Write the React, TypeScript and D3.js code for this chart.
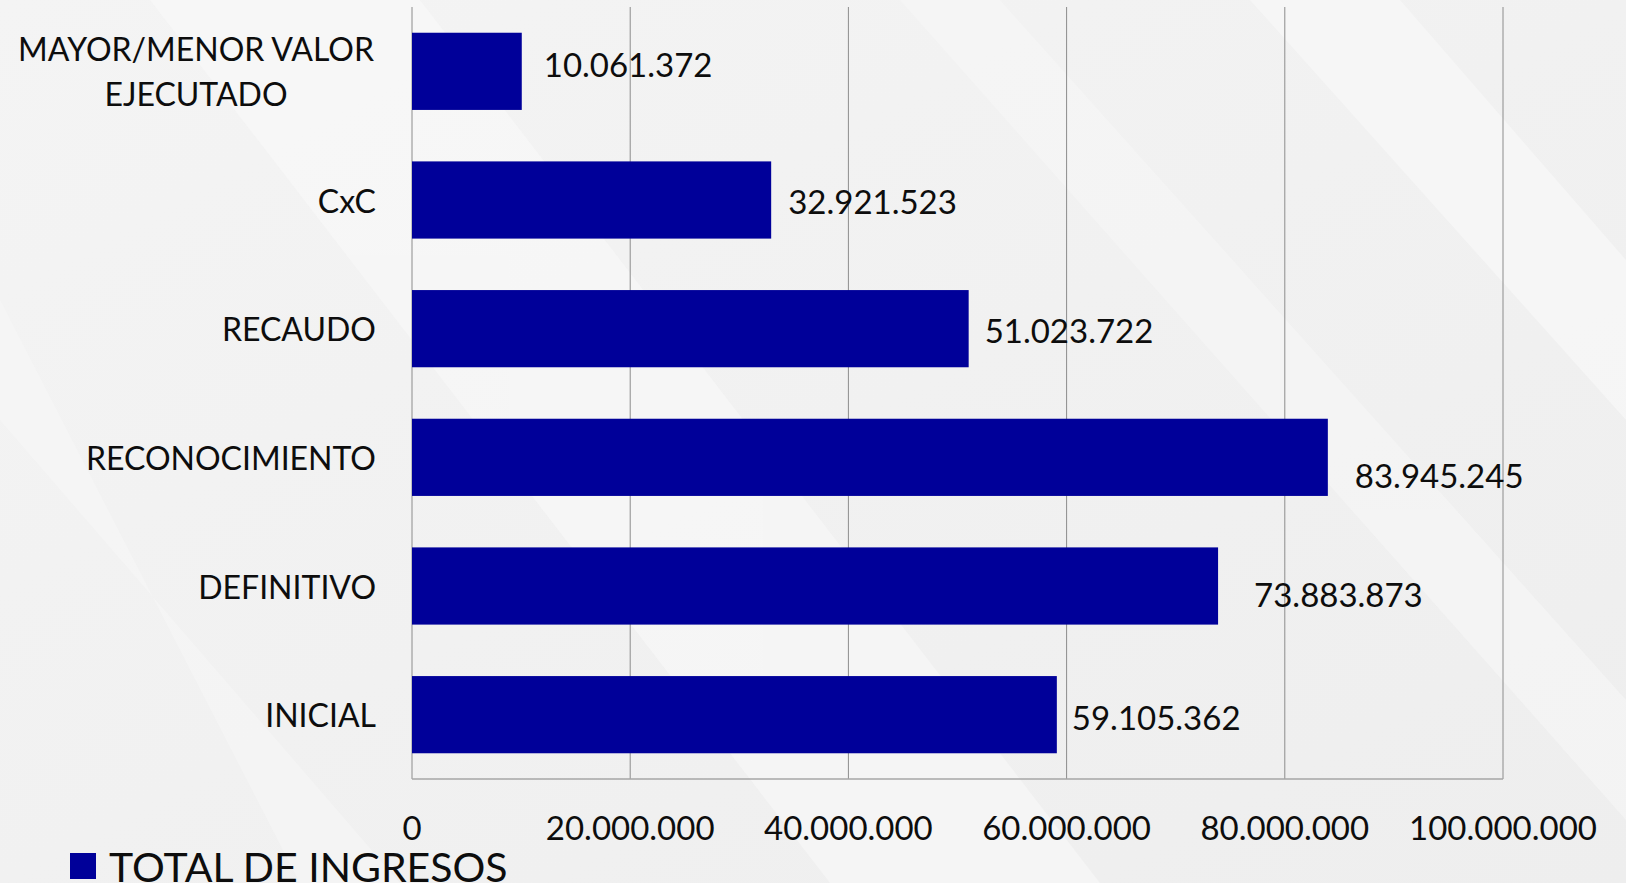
import React from "react";
import * as d3 from "d3";

const categories = ["MAYOR/MENOR VALOR\nEJECUTADO", "CxC", "RECAUDO", "RECONOCIMIENTO", "DEFINITIVO", "INICIAL"];
const values = [10061372, 32921523, 51023722, 83945245, 73883873, 59105362];
const seriesName = "TOTAL DE INGRESOS";
const xTicks = [0, 20000000, 40000000, 60000000, 80000000, 100000000];
// manual label nudges (px) as in the original layout
const labelDx = [22, 17, 16, 27, 36, 15];
const labelDy = [-7, 1, 1, 18, 8, 2];

const W = 1626;
const H = 883;
const FONT = "Lato, 'Open Sans', sans-serif";

const fmt = (v: number) => d3.format(",")(v).replace(/,/g, ".");

export default function App() {
  const left = 412;
  const right = 1503;
  const top = 7;
  const bottom = 779;
  const x = d3.scaleLinear().domain([0, 100000000]).range([left, right]);
  const y = d3
    .scaleBand<string>()
    .domain(categories)
    .range([top, bottom])
    .paddingInner(0.4)
    .paddingOuter(0.2);

  return (
    <svg
      width={W}
      height={H}
      style={{ position: "absolute", left: 0, top: 0 }}
      fontFamily={FONT}
    >
      <defs>
        <linearGradient id="bg" x1="0" y1="0" x2="1" y2="1">
          <stop offset="0" stopColor="#f4f4f4" />
          <stop offset="0.5" stopColor="#f1f1f1" />
          <stop offset="1" stopColor="#eeeeee" />
        </linearGradient>
      </defs>
      <rect x={0} y={0} width={W} height={H} fill="url(#bg)" />
      {/* faint diagonal streaks */}
      <g opacity={0.55}>
        <polygon points="150,0 420,0 1100,883 830,883" fill="#fafafa" />
        <polygon points="900,0 1000,0 1626,700 1626,820" fill="#f8f8f8" />
        <polygon points="0,300 0,420 400,883 300,883" fill="#f8f8f8" />
        <polygon points="1250,0 1400,0 1626,260 1626,420" fill="#fbfbfb" />
      </g>

      {/* gridlines */}
      {xTicks.map((t) => (
        <line
          key={"g" + t}
          x1={x(t)}
          x2={x(t)}
          y1={top}
          y2={bottom}
          stroke="#8c8c8c"
          strokeWidth={1}
        />
      ))}
      {/* bottom axis line */}
      <line x1={left} x2={right} y1={bottom} y2={bottom} stroke="#a6a6a6" strokeWidth={1.5} />

      {/* bars */}
      {categories.map((c, i) => (
        <rect
          key={"b" + i}
          x={x(0)}
          y={y(c)}
          width={x(values[i]) - x(0)}
          height={y.bandwidth()}
          fill="#000099"
        />
      ))}

      {/* data labels */}
      {categories.map((c, i) => (
        <text
          key={"l" + i}
          x={x(values[i]) + labelDx[i]}
          y={(y(c) as number) + y.bandwidth() / 2 + labelDy[i]}
          dominantBaseline="central"
          fontSize={33}
          fill="#0d0d0d"
        >
          {fmt(values[i])}
        </text>
      ))}

      {/* category labels */}
      {categories.map((c) => {
        const lines = c.split("\n");
        const cy = (y(c) as number) + y.bandwidth() / 2;
        const lh = 45;
        if (lines.length === 1) {
          return (
            <text
              key={"c" + c}
              x={376}
              y={cy}
              textAnchor="end"
              dominantBaseline="central"
              fontSize={32}
              fill="#0d0d0d"
            >
              {c}
            </text>
          );
        }
        return (
          <g key={"c" + c}>
            {lines.map((ln, k) => (
              <text
                key={k}
                x={196}
                y={cy - 23 + k * lh}
                textAnchor="middle"
                dominantBaseline="central"
                fontSize={32}
                fill="#0d0d0d"
              >
                {ln}
              </text>
            ))}
          </g>
        );
      })}

      {/* x tick labels */}
      {xTicks.map((t) => (
        <text
          key={"t" + t}
          x={x(t)}
          y={827}
          textAnchor="middle"
          dominantBaseline="central"
          fontSize={33}
          fill="#0d0d0d"
        >
          {fmt(t)}
        </text>
      ))}

      {/* legend */}
      <rect x={70} y={853} width={26} height={26} fill="#000099" />
      <text x={109} y={866} dominantBaseline="central" fontSize={41} fill="#0d0d0d">
        {seriesName}
      </text>
    </svg>
  );
}
